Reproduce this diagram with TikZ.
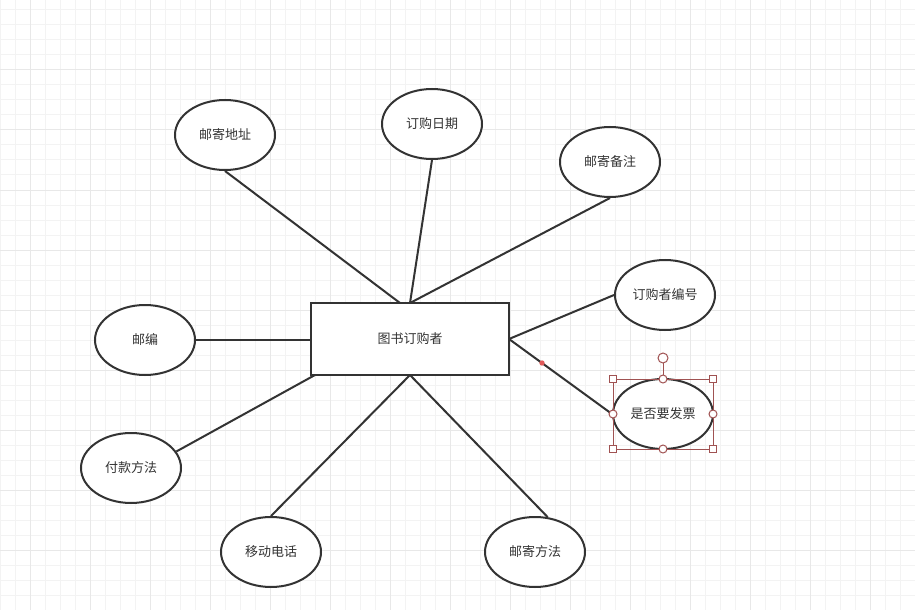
\documentclass[tikz,border=0pt]{standalone}
\usepackage{fontspec}
\newfontfamily\cjk{Noto Sans CJK SC}
\usetikzlibrary{shapes.geometric}
\definecolor{ink}{HTML}{333333}
\definecolor{gridminor}{HTML}{F3F3F3}
\definecolor{gridmajor}{HTML}{E8E8E8}
\definecolor{sel}{HTML}{A05252}
\definecolor{dotred}{HTML}{E05A5A}
\pgfdeclarelayer{grid}
\pgfdeclarelayer{links}
\pgfsetlayers{grid,links,main}
\tikzset{
  attr/.style={ellipse, draw=ink, line width=1.5pt, fill=white, minimum width=75pt, minimum height=52.5pt, inner sep=0pt, font=\cjk\fontsize{9.75}{11}\selectfont, text=ink},
  ent/.style={rectangle, draw=ink, line width=1.5pt, fill=white, minimum width=148.5pt, minimum height=54pt, inner sep=0pt, font=\cjk\fontsize{9.75}{11}\selectfont, text=ink},
  conn/.style={draw=ink, line width=1.5pt},
  hsq/.style={rectangle, draw=sel, fill=white, line width=0.75pt, minimum size=5pt, inner sep=0pt},
  hcirc/.style={circle, draw=sel, fill=white, line width=0.75pt, minimum size=6pt, inner sep=0pt},
}
\begin{document}
\begin{tikzpicture}[x=0.75pt, y=-0.75pt]
\useasboundingbox (0,0) rectangle (915,610);
\begin{pgfonlayer}{grid}
\fill[white] (0,0) rectangle (915,610);
\foreach \gx in {0,15,...,915} { \draw[gridminor, line width=0.75pt] (\gx,0) -- (\gx,610); }
\foreach \gy in {10,25,...,610} { \draw[gridminor, line width=0.75pt] (0,\gy) -- (915,\gy); }
\foreach \gx in {30,90,...,915} { \draw[gridmajor, line width=0.75pt] (\gx,0) -- (\gx,610); }
\foreach \gy in {70,130,...,610} { \draw[gridmajor, line width=0.75pt] (0,\gy) -- (915,\gy); }
\end{pgfonlayer}

% nodes
\node[ent] (buyer) at (410,339) {图书订购者};
\node[attr] (addr) at (225,135) {邮寄地址};
\node[attr] (date) at (432,124) {订购日期};
\node[attr] (note) at (610,162) {邮寄备注};
\node[attr] (bid) at (665,295) {订购者编号};
\node[attr] (inv) at (663,414) {是否要发票};
\node[attr] (zip) at (145,340) {邮编};
\node[attr] (pay) at (131,468) {付款方法};
\node[attr] (phone) at (271,552) {移动电话};
\node[attr] (ship) at (535,552) {邮寄方法};

% anchor coordinates on the entity
\coordinate (bt1) at (400,303);
\coordinate (bt2) at (410,303);
\coordinate (br) at (509,339);
\coordinate (bl) at (311,340);
\coordinate (bbl) at (315,375);
\coordinate (bb) at (410,375);

% connectors
\begin{pgfonlayer}{links}
\draw[conn] (addr.south) -- (bt1);
\draw[conn] (date.south) -- (bt2);
\draw[conn] (note.south) -- (bt2);
\draw[conn] (bid.west) -- (br);
\draw[conn] (inv.west) -- (br);
\draw[conn] (zip.east) -- (bl);
\draw[conn] (pay.20) -- (bbl);
\draw[conn] (phone.north) -- (bb);
\draw[conn] (ship.70) -- (bb);
\end{pgfonlayer}

% red dot on connector
\fill[dotred] (542,363) circle[radius=2pt];

% selection handles
\draw[sel, line width=0.6pt] (613,379) rectangle (713,449);
\draw[sel, line width=0.75pt] (663,358) -- (663,379);
\node[hcirc, minimum size=7.5pt] (rot) at (663,358) {};
\node[hsq] (h1) at (613,379) {};
\node[hsq] (h2) at (713,379) {};
\node[hsq] (h3) at (613,449) {};
\node[hsq] (h4) at (713,449) {};
\node[hcirc] (h5) at (663,379) {};
\node[hcirc] (h6) at (663,449) {};
\node[hcirc] (h7) at (613,414) {};
\node[hcirc] (h8) at (713,414) {};
\end{tikzpicture}
\end{document}
